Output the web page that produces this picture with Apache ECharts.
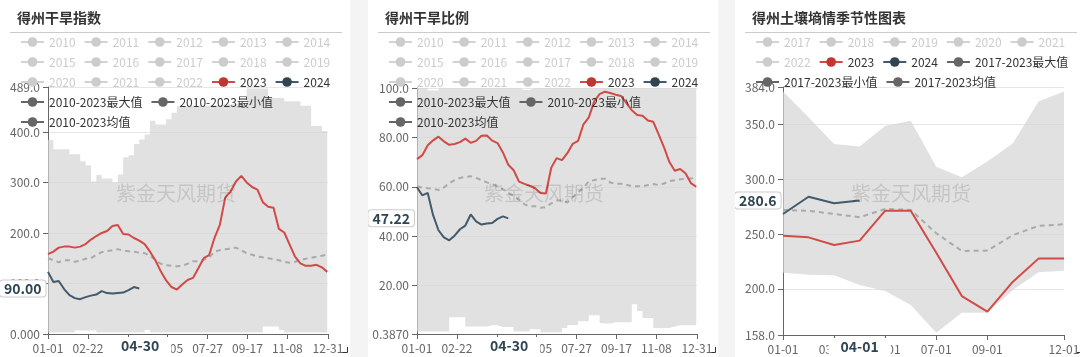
<!DOCTYPE html>
<html><head><meta charset="utf-8">
<script src="https://cdn.jsdelivr.net/npm/echarts/dist/echarts.min.js"></script>
<style>
html,body{margin:0;padding:0;background:#f4f4f4;width:1080px;height:357px;overflow:hidden;position:relative;}
.panel{position:absolute;top:0;width:350px;height:357px;background:#fff;}
</style></head><body>
<div id="c1" class="panel" style="left:0"></div>
<div id="c2" class="panel" style="left:368px"></div>
<div id="c3" class="panel" style="left:735px"></div>
<script>
// ---------- categories ----------
const weeks = ['01-01','01-08','01-15','01-22','01-29','02-05','02-12','02-19','02-26','03-04','03-11','03-18','03-25','04-01','04-08','04-15','04-22','04-29','05-06','05-13','05-20','05-27','06-03','06-10','06-17','06-24','07-01','07-08','07-15','07-22','07-29','08-05','08-12','08-19','08-26','09-02','09-09','09-16','09-23','09-30','10-07','10-14','10-21','10-28','11-04','11-11','11-18','11-25','12-02','12-09','12-16','12-23','12-30'];
const months = ['01-01','02-01','03-01','04-01','05-01','06-01','07-01','08-01','09-01','10-01','11-01','12-01'];
const years1 = ['2010','2011','2012','2013','2014','2015','2016','2017','2018','2019','2020','2021','2022'];
const years3 = ['2017','2018','2019','2020','2021','2022'];

// ---------- 得州干旱指数 ----------
const idx2023 = [158,163,171,173,173,171,173,178,187,194,200,204,214,216,198,197,190,185,178,163,146,124,106,93,88,98,107,111,130,150,156,190,216,270,282,302,313,300,291,286,261,252,250,208,201,177,153,140,135,135,137,132,123];
const idx2024 = [123,103,105,89,77,71,69,73,76,78,85,81,80,81,82,87,93,90];
const idxAvg = [150,146,142,146,146,143,145,149,150,157,162,164,166,168,165,164,163,161,160,155,146,139,136,135,134,135,139,144,144,147,151,163,166,168,169,171,166,160,157,153,152,150,148,146,143,141,143,146,149,151,153,155,157];
const idxMax = [384,366,366,366,356,356,342,334,302,315,308,308,300,316,350,354,376,385,395,422,415,415,425,438,451,451,451,452,452,452,453,453,455,455,455,455,455,486,486,486,486,467,467,467,461,461,461,452,452,412,412,402,384];
const idxMin = [3,3,3,3,3,7,7,7,7,3,3,3,3,3,3,3,3,3,8,3,3,3,3,3,3,3,3,3,3,3,3,3,3,3,3,3,3,3,3,3,15,15,15,8,3,3,3,3,3,3,3,3,3];

// ---------- 得州干旱比例 ----------
const ratio2023 = [71.2,72.8,76.8,78.8,80.3,78.4,77,77.3,78.1,79.5,77.8,78.6,80.7,80.8,78.7,77.7,73.9,68.9,66.7,62.1,61.2,60.4,59.4,57.5,57.3,67.7,71.6,70.8,73.6,77.4,78.6,85.3,88.1,94.6,97.5,98.5,98,97.3,96.8,93.9,91,89.1,88.8,86.8,86.3,81.2,76,70,66.5,67.2,65.5,61.5,60];
const ratio2024 = [59.8,56.5,57.5,48.5,42.4,39.5,38.3,40.2,42.8,44.3,48.8,46,44.7,45.1,45.3,47,48,47.22];
const ratioAvg = [60.2,59.7,59.4,59.2,58.7,59.7,61.4,62.7,63.6,64,64.3,63.6,62.7,61.8,61,60.3,59,57.5,56.3,54.8,52.9,52.1,52.1,51.5,51.8,53.3,54.4,54.5,53.6,55.8,57.7,59.6,62.2,62.7,63.2,63.3,61.7,61.2,61.2,60.8,60.2,60.2,60.2,60.7,61.1,60.7,61.3,62.3,62.6,63,63.2,63.4,63.6];
const ratioMax = [100,100,99,99,100,100,100,100,100,100,100,100,100,100,100,100,100,100,100,99.2,99.2,100,100,100,100,100,100,100,100,100,100,100,100,100,100,100,100,100,100,100,100,100,100,100,100,100,100,100,100,100,100,100,100];
const ratioMin = [1.4,1.4,1.4,1.4,1.4,1.4,7.2,7.2,7.2,3.4,3.4,3.4,3.4,3.4,3.9,3.9,3.2,3.2,1.4,1.4,1.4,2.3,2.3,1,1,1,1,2.8,4,4,5.5,5.5,8,8,4.8,4.6,4.6,5.1,5.1,5.1,12.4,9.7,6.9,6.9,2.8,2.8,2.8,2.8,3.4,3.9,3.9,3.9,3.9];

// ---------- 得州土壤墒情 ----------
const soil2023 = [248.5,247,240,244,271.3,271.3,233,193.5,179.3,206.6,227.6,227.6];
const soil2024 = [268.3,284,278,280.6];
const soilAvg = [272,271.2,268.3,265.3,272.9,272,250.7,234.6,234.9,249,257.4,258.9];
const soilMax = [380,356.4,332.1,329.7,348.5,353.3,311.4,301.8,316,332.8,370.7,380];
const soilMin = [214.8,213,212.4,203.6,198.1,185.3,160.1,178.3,178.3,199,215.2,216.6];

// daily category axis for 2024 (leap year)
const days = [];
for (let d = new Date(Date.UTC(2024,0,1)); d.getUTCFullYear() === 2024; d.setUTCDate(d.getUTCDate()+1)) {
  days.push(String(d.getUTCMonth()+1).padStart(2,'0') + '-' + String(d.getUTCDate()).padStart(2,'0'));
}

const FONT = '"Noto Sans CJK SC","Noto Sans",sans-serif';
const pair = (xs, vs) => vs.map((v, i) => [xs[i], v]);
const grayLegend = name => ({
  name,
  itemStyle: {color: '#666', borderColor: '#666', opacity: 1},
  lineStyle: {color: '#666', opacity: 1, type: 'solid', width: 2}
});

function makeOption(c) {
  const hidden = c.hiddenYears.map(y => ({name: y, type: 'line', data: [], symbol: 'circle', showSymbol: false, color: '#ccc'}));
  const sel = {};
  c.hiddenYears.forEach(y => sel[y] = false);
  return {
    animation: false,
    textStyle: {fontFamily: FONT},
    title: {text: c.title, left: 17, top: 11, padding: 0,
      textStyle: {fontSize: 14, fontWeight: 'bold', color: '#333', fontFamily: FONT}},
    legend: {
      left: 20, right: 5, top: 36, padding: 0,
      itemWidth: 23, itemHeight: 12, itemGap: 8,
      inactiveColor: '#ccc',
      textStyle: {fontSize: 12, color: '#333', fontFamily: FONT},
      selected: sel,
      data: [...c.hiddenYears, '2023', '2024', grayLegend(c.maxName), grayLegend(c.minName), grayLegend(c.avgName)]
    },
    grid: Object.assign({outerBoundsMode: 'none', containLabel: false}, c.grid),
    xAxis: {
      type: 'category', data: c.cats, boundaryGap: false,
      axisLine: {show: true, lineStyle: {color: '#666'}},
      axisTick: {show: true, interval: c.showIdx, lineStyle: {color: '#666'}},
      axisLabel: {interval: c.showIdx, color: '#666', fontSize: 12, margin: 8},
      splitLine: {show: false},
      axisPointer: {show: true, type: 'none', value: c.xPointer, status: 'show', triggerTooltip: false,
        label: {show: true, backgroundColor: '#fff', color: '#2f4554', fontWeight: 'bold', fontSize: 14,
          padding: [2, 12], borderWidth: 0, margin: 3}}
    },
    yAxis: {
      type: 'value', min: c.yMin, max: c.yMax,
      axisLine: {show: true, lineStyle: {color: '#666'}},
      axisTick: {show: true, lineStyle: {color: '#666'}},
      axisLabel: {color: '#666', fontSize: 12, margin: 8, formatter: v => Number(v).toPrecision(4)},
      splitLine: {show: true, lineStyle: {color: '#e6e6e6'}},
      axisPointer: {show: true, type: 'none', value: c.yPointer, status: 'show', triggerTooltip: false,
        label: {show: true, formatter: p => Number(p.value).toPrecision(4), backgroundColor: '#fff',
          borderColor: '#ccc', borderWidth: 1, color: '#2f4554', fontWeight: 'bold', fontSize: 14,
          padding: [1, 4], margin: 3}}
    },
    graphic: [
      {type: 'line', silent: true, shape: {x1: 10, y1: 32.5, x2: 342, y2: 32.5}, style: {stroke: '#ccc', lineWidth: 1}},
      {type: 'text', silent: true, z: 100, x: 176, y: 193,
        style: {text: '紫金天风期货', fill: 'rgba(0,0,0,0.13)', font: '20px ' + FONT, align: 'center', verticalAlign: 'middle'}},
      {type: 'polyline', silent: true, shape: {points: [[342, 352.5], [347.5, 352.5], [347.5, 347]]}, style: {stroke: '#333', lineWidth: 1, fill: null}}
    ],
    series: [
      ...hidden,
      {name: c.minName, type: 'line', stack: 'band', step: c.step, symbol: 'circle', showSymbol: false, color: '#666',
        lineStyle: {opacity: 0}, data: pair(c.xs, c.minVals)},
      {name: c.maxName, type: 'line', stack: 'band', step: c.step, symbol: 'circle', showSymbol: false, color: '#666',
        lineStyle: {opacity: 0}, areaStyle: {color: '#d4d4d4', opacity: 0.7},
        data: pair(c.xs, c.maxVals.map((v, i) => +(v - c.minVals[i]).toFixed(3)))},
      {name: c.avgName, type: 'line', symbol: 'circle', showSymbol: false, color: '#aaa',
        lineStyle: {color: '#aaa', width: 2, type: [5, 4]}, data: pair(c.xs, c.avgVals)},
      {name: '2023', type: 'line', symbol: 'circle', showSymbol: false, color: '#c23531',
        lineStyle: {width: 2, color: '#d24a45'}, data: pair(c.xs, c.v2023)},
      {name: '2024', type: 'line', symbol: 'circle', showSymbol: false, color: '#2f4554',
        lineStyle: {width: 2, color: '#435a6b'}, data: pair(c.xs, c.v2024)}
    ]
  };
}

const dayIdx = i => (i % 52 === 0 && i < 364) || i === 365;
const monIdx = i => [0, 2, 4, 6, 8, 11].indexOf(i) >= 0;

echarts.init(document.getElementById('c1')).setOption(makeOption({
  title: '得州干旱指数', cats: days, xs: weeks, showIdx: dayIdx, step: 'end',
  hiddenYears: years1, maxName: '2010-2023最大值', minName: '2010-2023最小值', avgName: '2010-2023均值',
  yMin: 0, yMax: 489, xPointer: 120, yPointer: 90,
  grid: {left: 48, right: 22, top: 87, bottom: 23},
  minVals: idxMin, maxVals: idxMax, avgVals: idxAvg, v2023: idx2023, v2024: idx2024
}));

echarts.init(document.getElementById('c2')).setOption(makeOption({
  title: '得州干旱比例', cats: days, xs: weeks, showIdx: dayIdx, step: 'end',
  hiddenYears: years1, maxName: '2010-2023最大值', minName: '2010-2023最小值', avgName: '2010-2023均值',
  yMin: 0.387, yMax: 100, xPointer: 120, yPointer: 47.22,
  grid: {left: 49, right: 21, top: 88, bottom: 23},
  minVals: ratioMin, maxVals: ratioMax, avgVals: ratioAvg, v2023: ratio2023, v2024: ratio2024
}));

echarts.init(document.getElementById('c3')).setOption(makeOption({
  title: '得州土壤墒情季节性图表', cats: months, xs: months, showIdx: monIdx, step: false,
  hiddenYears: years3, maxName: '2017-2023最大值', minName: '2017-2023最小值', avgName: '2017-2023均值',
  yMin: 158, yMax: 384, xPointer: 3, yPointer: 280.6,
  grid: {left: 48, right: 21, top: 87, bottom: 22},
  minVals: soilMin, maxVals: soilMax, avgVals: soilAvg, v2023: soil2023, v2024: soil2024
}));
</script>
</body></html>
